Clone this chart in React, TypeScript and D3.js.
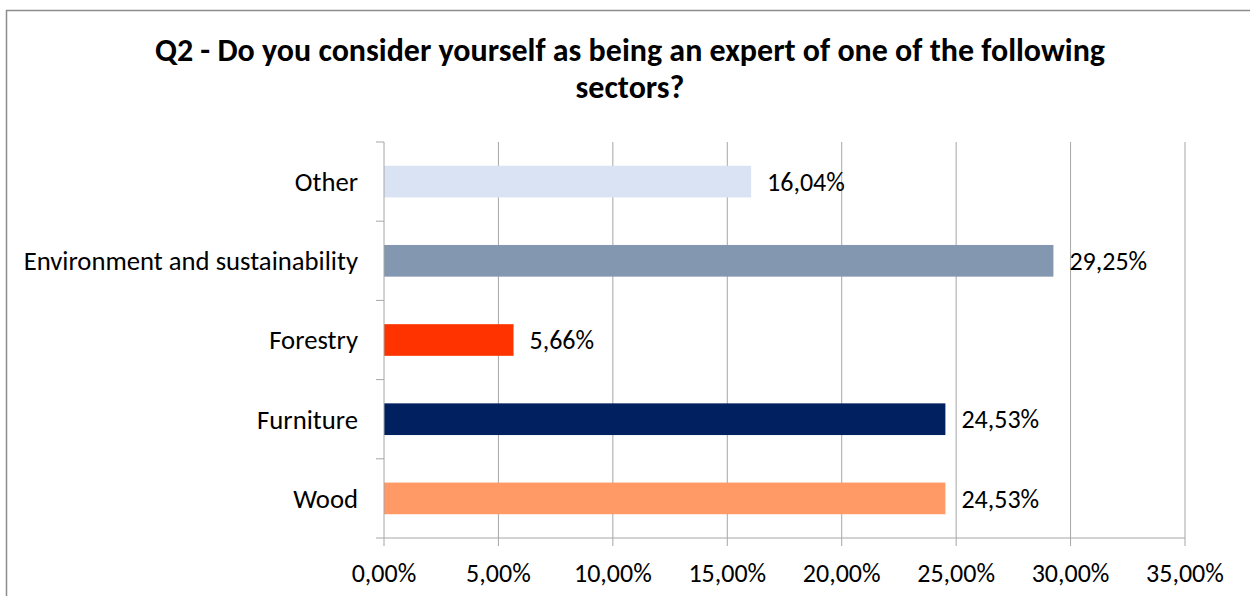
import React from "react";
import * as d3 from "d3";

const categories = ["Other", "Environment and sustainability", "Forestry", "Furniture", "Wood"];
const values = [16.04, 29.25, 5.66, 24.53, 24.53];
const colors = ["#DAE3F3", "#8497B0", "#FF3300", "#002060", "#FF9966"];
const xTicks = [0, 5, 10, 15, 20, 25, 30, 35];
const titleLines = ["Q2 - Do you consider yourself as being an expert of one of the following", "sectors?"];

const W = 1250;
const H = 596;
const left = 384;
const right = 1185;
const top = 142;
const bottom = 538;
const FONT = "Carlito, Calibri, 'Liberation Sans', Arial, sans-serif";

const fmt = (v: number) => v.toFixed(2).replace(".", ",") + "%";

export default function App() {
  const x = d3.scaleLinear().domain([0, 35]).range([left, right]);
  const y = d3.scaleBand<string>().domain(categories).range([top, bottom]).paddingInner(0.6).paddingOuter(0.3);
  const band = d3.scaleBand<string>().domain(categories).range([top, bottom]);
  const grid = "#A6A6A6";
  return (
    <svg width={W} height={H} style={{ position: "absolute", left: 0, top: 0, background: "#fff" }}>
      <rect x={6.5} y={10.5} width={1300} height={700} fill="none" stroke="#8C8C8C" strokeWidth={1.5} />
      {titleLines.map((t, i) => (
        <text key={i} x={630} y={61 + i * 37} textAnchor="middle" fontFamily={FONT} fontWeight="bold" fontSize={32} fill="#000">
          {t}
        </text>
      ))}
      {xTicks.map((t) => (
        <g key={t}>
          {t > 0 && <line x1={x(t)} x2={x(t)} y1={top} y2={bottom} stroke={grid} strokeWidth={1} />}
          <line x1={x(t)} x2={x(t)} y1={bottom} y2={bottom + 8} stroke={grid} strokeWidth={1} />
          <text x={x(t)} y={582} textAnchor="middle" fontFamily={FONT} fontSize={26} fill="#000">
            {fmt(t)}
          </text>
        </g>
      ))}
      {categories.map((c, i) => (
        <g key={c}>
          <rect x={x(0)} y={y(c)!} width={x(values[i]) - x(0)} height={y.bandwidth()} fill={colors[i]} />
          <text x={x(values[i]) + 16} y={y(c)! + y.bandwidth() / 2} dy="0.35em" fontFamily={FONT} fontSize={26} fill="#000">
            {fmt(values[i])}
          </text>
          <text x={358} y={band(c)! + band.bandwidth() / 2} dy="0.35em" textAnchor="end" fontFamily={FONT} fontSize={26.7} fill="#000">
            {c}
          </text>
        </g>
      ))}
      {d3.range(categories.length + 1).map((k) => {
        const yy = top + k * band.step();
        return <line key={k} x1={376} x2={left} y1={yy} y2={yy} stroke={grid} strokeWidth={1} />;
      })}
      <line x1={left} x2={left} y1={top} y2={bottom} stroke={grid} strokeWidth={1} />
      <line x1={left} x2={right} y1={bottom} y2={bottom} stroke={grid} strokeWidth={1} />
    </svg>
  );
}
